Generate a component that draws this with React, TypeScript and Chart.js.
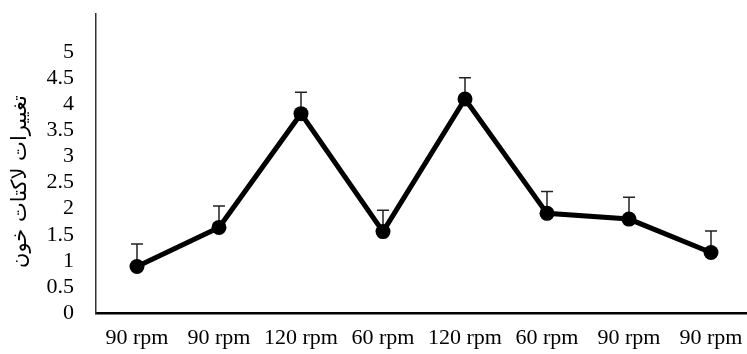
import React, { useEffect, useRef } from "react";
import { Chart, registerables } from "chart.js";

Chart.register(...registerables);

const categories = ["90 rpm", "90 rpm", "120 rpm", "60 rpm", "120 rpm", "60 rpm", "90 rpm", "90 rpm"];
const values = [0.89, 1.64, 3.82, 1.56, 4.1, 1.91, 1.8, 1.16];
const errors = [0.43, 0.41, 0.41, 0.41, 0.41, 0.42, 0.42, 0.41];
const yTicks = [0, 0.5, 1, 1.5, 2, 2.5, 3, 3.5, 4, 4.5, 5];
const yTitle = "تغییرات لاکتات خون";
const yMax = 5.73;
const serif = "'Liberation Serif', 'Times New Roman', serif";

const errorBarPlugin = {
  id: "errorBars",
  beforeDatasetsDraw(chart: any) {
    const { ctx, scales } = chart;
    const x = scales.x;
    const y = scales.y;
    ctx.save();
    ctx.strokeStyle = "#222";
    ctx.lineWidth = 1.5;
    values.forEach((v, i) => {
      const px = x.getPixelForValue(i);
      const py = y.getPixelForValue(v);
      const pt = y.getPixelForValue(v + errors[i]);
      ctx.beginPath();
      ctx.moveTo(px, py);
      ctx.lineTo(px, pt);
      ctx.moveTo(px - 6, pt);
      ctx.lineTo(px + 6, pt);
      ctx.stroke();
    });
    ctx.restore();
  },
};

const yTitlePlugin = {
  id: "yTitle",
  afterDraw(chart: any) {
    const { ctx, chartArea } = chart;
    ctx.save();
    ctx.translate(21, (chartArea.top + chartArea.bottom) / 2 + 18);
    ctx.rotate(-Math.PI / 2);
    ctx.font = "21px 'DejaVu Sans'";
    ctx.fillStyle = "#000";
    ctx.textAlign = "center";
    ctx.textBaseline = "middle";
    ctx.fillText(yTitle, 0, 0);
    ctx.restore();
  },
};

export default function App() {
  const ref = useRef<HTMLCanvasElement>(null);
  useEffect(() => {
    document.body.style.margin = "0";
    document.body.style.overflow = "hidden";
    const chart = new Chart(ref.current as HTMLCanvasElement, {
      type: "line",
      data: {
        labels: categories,
        datasets: [
          {
            data: values,
            borderColor: "#000",
            backgroundColor: "#000",
            borderWidth: 5,
            pointRadius: 7.5,
            pointBackgroundColor: "#000",
            pointBorderWidth: 0,
            tension: 0,
          },
        ],
      },
      options: {
        animation: false,
        responsive: false,
        events: [],
        layout: { padding: { left: 0, right: 8, top: 14, bottom: 0 } },
        plugins: { legend: { display: false }, tooltip: { enabled: false } },
        scales: {
          x: {
            offset: true,
            grid: { display: false, drawTicks: false },
            border: { display: true, color: "#000", width: 2.5 },
            ticks: {
              color: "#000",
              padding: 12,
              maxRotation: 0,
              autoSkip: false,
              font: { family: serif, size: 22 },
            },
            afterFit(scale: any) {
              scale.height = 41;
              scale.paddingLeft = 0;
              scale.paddingRight = 0;
            },
          },
          y: {
            min: 0,
            max: yMax,
            grid: { display: false, drawTicks: false },
            border: { display: true, color: "#333", width: 1.5 },
            ticks: {
              color: "#000",
              padding: 22,
              autoSkip: false,
              crossAlign: "near",
              font: { family: serif, size: 22 },
              callback: (v: any) => String(v),
            },
            afterBuildTicks(scale: any) {
              scale.ticks = yTicks.map((v) => ({ value: v }));
            },
            afterFit(scale: any) {
              scale.width = 96;
              scale.paddingTop = 0;
              scale.paddingBottom = 0;
            },
          },
        },
      },
      plugins: [errorBarPlugin, yTitlePlugin],
    });
    return () => chart.destroy();
  }, []);
  return (
    <div style={{ width: 747, height: 354, overflow: "hidden" }}>
      <canvas ref={ref} width={760} height={354} style={{ display: "block" }} />
    </div>
  );
}
